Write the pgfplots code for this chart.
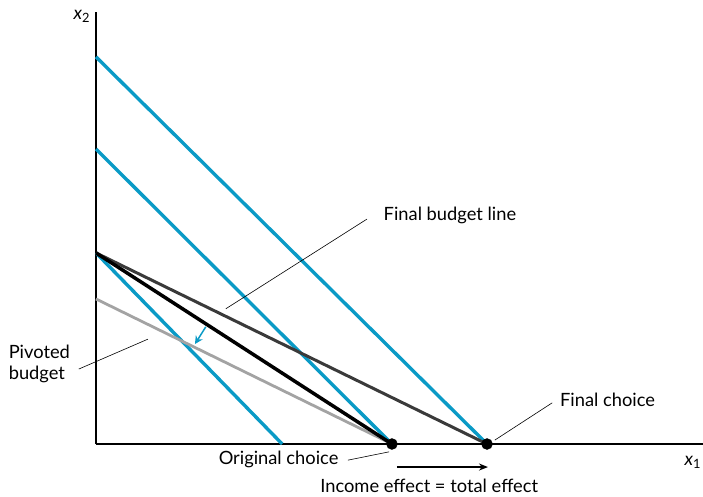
\documentclass[border=0pt]{standalone}
\usepackage{fontspec}
\setmainfont{Lato}
\usepackage{pgfplots}
\pgfplotsset{compat=1.18}
\usetikzlibrary{arrows.meta}
\definecolor{icblue}{HTML}{0A9AC6}
\definecolor{darkbud}{HTML}{3A3A3A}
\definecolor{pivbud}{HTML}{A3A3A3}
\begin{document}
\begin{tikzpicture}
\useasboundingbox (0,0) rectangle (703pt,496pt);
\begin{axis}[
  at={(96pt,52pt)}, anchor=south west,
  scale only axis, width=607pt, height=432pt,
  xmin=0, xmax=12.388, ymin=0, ymax=8.816,
  axis lines=left,
  axis line style={line width=2.2pt, -},
  xtick=\empty, ytick=\empty,
  clip=false,
  font=\fontsize{18.3}{21}\selectfont,
]
% indifference curves (perfect substitutes)
\addplot[icblue, line width=3.4pt] coordinates {(0,7.90) (7.98,0)};
\addplot[icblue, line width=3.4pt] coordinates {(0,6.02) (6.04,0)};
\addplot[icblue, line width=3.4pt] coordinates {(0,3.90) (3.80,0)};
% budget lines
\addplot[pivbud, line width=2.8pt] coordinates {(0,2.96) (6.04,0)};
\addplot[darkbud, line width=3pt] coordinates {(0,3.90) (7.98,0)};
\addplot[black, line width=3.5pt] coordinates {(0,3.90) (6.04,0)};
% choices
\addplot[only marks, mark=*, mark size=5.5pt, black] coordinates {(6.04,0) (7.98,0)};

% annotations
\draw[line width=0.6pt] (axis cs:5.53,4.59) -- (axis cs:2.65,2.76);
\node[anchor=west] at (axis cs:5.80,4.67) {Final budget line};
\draw[icblue, line width=1.5pt, -{Stealth[length=8pt,width=8pt]}] (axis cs:2.24,2.39) -- (axis cs:2.02,2.04);
\draw[line width=0.6pt] (axis cs:-0.35,1.53) -- (axis cs:1.06,2.14);
\node[anchor=east, align=left] at (axis cs:-0.46,1.63) {Pivoted\\budget};
\draw[line width=0.6pt] (axis cs:5.14,-0.33) -- (axis cs:5.98,-0.16);
\node[anchor=east] at (axis cs:5.02,-0.31) {Original choice};
\draw[line width=0.6pt] (axis cs:8.14,0.08) -- (axis cs:9.31,0.84);
\node[anchor=west] at (axis cs:9.40,0.90) {Final choice};
\draw[line width=1.5pt, -{Stealth[length=9pt,width=7pt]}] (axis cs:6.14,-0.47) -- (axis cs:8.0,-0.47);
\node at (axis cs:6.8,-0.86) {Income effect = total effect};
\node at (axis cs:12.18,-0.37) {\textit{x}\textsubscript{1}};
\node at (axis cs:-0.29,8.72) {\textit{x}\textsubscript{2}};
\end{axis}
\end{tikzpicture}
\end{document}
